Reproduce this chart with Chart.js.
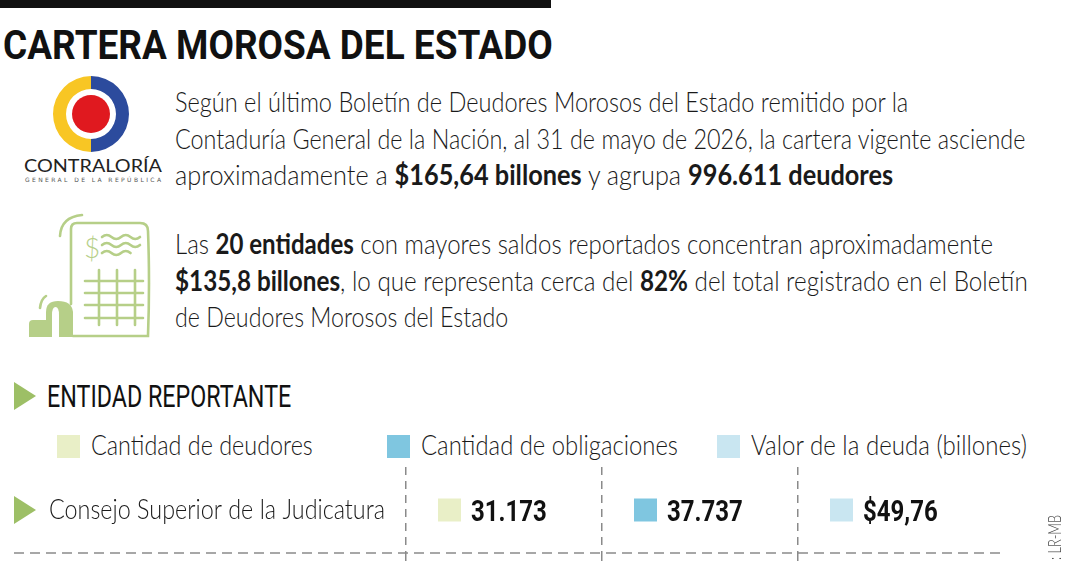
<!DOCTYPE html>
<html lang="es">
<head>
<meta charset="utf-8">
<title>Cartera morosa del Estado</title>
<script src="https://cdn.jsdelivr.net/npm/chart.js@4.4.1/dist/chart.umd.min.js"></script>
<style>
    html, body { margin: 0; padding: 0; }
    body {
        width: 1080px; height: 567px; overflow: hidden; position: relative;
        background: #fff; color: #1a1a1a;
        font-family: Lato, Roboto, "Noto Sans", sans-serif;
    }
    .topbar { position: absolute; left: 0; top: 0; width: 551px; height: 8px; background: #111; }
    .ln { position: absolute; white-space: nowrap; line-height: 1; transform-origin: 0 0; }
    .title { left: 3px; top: 25px; font-family: Roboto, sans-serif; font-size: 41px; font-weight: 700; color: #111; }
    .txt { left: 175px; font-size: 28px; font-weight: 300; }
    .txt b { font-weight: 700; }
    .head { left: 47px; top: 381px; font-family: Roboto, sans-serif; font-size: 31px; font-weight: 400; color: #111; }
    #legend { position: absolute; left: 57px; top: 430px; display: flex; }
    #legend .item { width: 330px; position: relative; height: 30px; }
    #legend .sw { position: absolute; left: 0; top: 5px; width: 23px; height: 23px; }
    #legend .lab { left: 34px; top: 0; font-size: 28px; font-weight: 300; }
    #tabla { position: absolute; left: 0; top: 460px; }
    .credit {
        position: absolute; left: 1046px; top: 605px; width: 120px; text-align: right;
        font-size: 17px; font-weight: 300; line-height: 18px; color: #444;
        transform-origin: 0 0; transform: rotate(-90deg) scaleX(0.75); white-space: nowrap;
    }
    svg.art { position: absolute; left: 0; top: 0; }
</style>
</head>
<body>
<div class="topbar"></div>
<div class="ln title" data-fit="550">CARTERA MOROSA DEL ESTADO</div>

<svg class="art" width="170" height="420" viewBox="0 0 170 420">
    <!-- logo Contraloría -->
    <path d="M91,76 A38,38 0 0 0 91,152 L91,139 A25,25 0 0 1 91,89 Z" fill="#f8c624"/>
    <path d="M91,76 A38,38 0 0 1 91,152 L91,139 A25,25 0 0 0 91,89 Z" fill="#2c4b9d"/>
    <circle cx="91" cy="114" r="19" fill="#e0191f"/>
    <text x="24" y="172" font-family="Lato, 'DejaVu Sans', sans-serif" font-size="18" fill="#222"
          textLength="138" lengthAdjust="spacingAndGlyphs">CONTRALORÍA</text>
    <text x="25" y="182" font-family="'DejaVu Sans', sans-serif" font-size="6" fill="#555"
          textLength="136" lengthAdjust="spacing">GENERAL DE LA REPÚBLICA</text>

    <!-- icono documento -->
    <g fill="none" stroke="#b6cf88" stroke-width="2.6" stroke-linecap="round">
        <path d="M71,304 V229 Q71,223 77,223 H140 Q148,223 148,231 Q150,282 148,336 H73"/>
        <path d="M60,236 Q61,217 82,215"/>
        <path d="M40,308 Q41,299 46,296"/>
        <path d="M102,237 q4.75,-4 9.5,0 t9.5,0 t9.5,0 t9.5,0"/>
        <path d="M102,245 q4.75,-4 9.5,0 t9.5,0 t9.5,0 t9.5,0"/>
        <path d="M102,253 q4.75,-4 9.5,0 t9.5,0 t9.5,0"/>
        <path d="M99,270 V325 M117,270 V325 M135,270 V325"/>
        <path d="M85,281 H143 M85,293 H143 M85,305 H143 M85,318 H143"/>
    </g>
    <text x="84" y="258" font-family="Lato, Roboto, sans-serif" font-weight="300" font-size="28" fill="#b6cf88">$</text>
    <path d="M29,337 V324 Q29,320 33,320 H47 V337 Z" fill="#b6cf88"/>
    <path d="M46,337 V312 Q46,301 58,301 Q72,301 73,312 V337 Z" fill="#b6cf88"/>
    <path d="M52,337 V315 Q52,307 55.5,307 Q59,307 59,315 V337 Z" fill="#fff"/>

    <!-- marcador de sección -->
    <polygon points="14,382 36,396 14,410" fill="#9dbf66"/>
</svg>

<div class="ln txt" style="top:87px" data-fit="733">Según el último Boletín de Deudores Morosos del Estado remitido por la</div>
<div class="ln txt" style="top:124px" data-fit="850">Contaduría General de la Nación, al 31 de mayo de 2026, la cartera vigente asciende</div>
<div class="ln txt" style="top:160px" data-fit="718">aproximadamente a <b>$165,64 billones</b> y agrupa <b>996.611 deudores</b></div>

<div class="ln txt" style="top:229px" data-fit="818">Las <b>20 entidades</b> con mayores saldos reportados concentran aproximadamente</div>
<div class="ln txt" style="top:266px" data-fit="853"><b>$135,8 billones</b>, lo que representa cerca del <b>82%</b> del total registrado en el Boletín</div>
<div class="ln txt" style="top:302px" data-fit="333">de Deudores Morosos del Estado</div>

<div class="ln head" data-fit="244">ENTIDAD REPORTANTE</div>
<div id="legend"></div>

<canvas id="tabla" width="1080" height="107"></canvas>

<div class="credit">: LR-MB</div>

<script>
// ---- data ----
const categorias = ['Cantidad de deudores', 'Cantidad de obligaciones', 'Valor de la deuda (billones)'];
const entidades = ['Consejo Superior de la Judicatura'];
const valores = [31173, 37737, 49.76];
const prefijos = ['', '', '$'];
const decimales = [0, 0, 2];
const colores = ['#e9efc7', '#7fc6e0', '#c9e6f1'];
const legendWidths = [222, 257, 276];

const GRID = '#8a8a8a';
const SWATCH = 23;
const CELL_INSET = 32;
const CONDENSE = 0.8;

// format like es-CO: 31.173 / 49,76
function formatValue(i) {
    const parts = valores[i].toFixed(decimales[i]).split('.');
    parts[0] = parts[0].replace(/\B(?=(\d{3})+(?!\d))/g, '.');
    return prefijos[i] + parts.join(',');
}

// legend
const legend = document.getElementById('legend');
categorias.forEach(function(cat, i) {
    const item = document.createElement('div');
    item.className = 'item';
    item.innerHTML = '<div class="sw" style="background:' + colores[i] + '"></div>' +
        '<div class="ln lab" data-fit="' + legendWidths[i] + '">' + cat + '</div>';
    legend.appendChild(item);
});

// squeeze lines to the condensed width of the original typeface
document.querySelectorAll('[data-fit]').forEach(function(el) {
    const w = el.offsetWidth;
    if (w > 0) el.style.transform = 'scaleX(' + (Number(el.dataset.fit) / w).toFixed(4) + ')';
});

function drawCondensed(ctx, text, x, y, font, k) {
    ctx.save();
    ctx.translate(x, y);
    ctx.scale(k, 1);
    ctx.font = font;
    ctx.fillText(text, 0, 0);
    ctx.restore();
}

const rowPlugin = {
    id: 'rowLabels',
    afterDatasetsUpdate(chart) {
        // move each swatch to the left part of its cell
        const x = chart.scales.x;
        const colW = x.getPixelForValue(1) - x.getPixelForValue(0);
        chart.getDatasetMeta(0).data.forEach(function(pt) {
            pt.x = pt.x - colW / 2 + CELL_INSET + SWATCH / 2;
        });
    },
    afterDraw(chart) {
        const ctx = chart.ctx;
        const area = chart.chartArea;
        const y = chart.scales.y.getPixelForValue(0);
        ctx.save();
        ctx.fillStyle = '#111';
        ctx.textBaseline = 'alphabetic';
        chart.getDatasetMeta(0).data.forEach(function(pt, i) {
            drawCondensed(ctx, formatValue(i), pt.x + SWATCH / 2 + 10, pt.y + 10.7, '700 30px Roboto', CONDENSE);
        });

        // row label with marker
        ctx.fillStyle = '#9dbf66';
        ctx.beginPath();
        ctx.moveTo(14, y - 14);
        ctx.lineTo(36, y);
        ctx.lineTo(14, y + 14);
        ctx.closePath();
        ctx.fill();
        ctx.fillStyle = '#1a1a1a';
        const font = '300 28px Lato, Roboto, sans-serif';
        ctx.font = font;
        const k = 336 / ctx.measureText(entidades[0]).width;
        drawCondensed(ctx, entidades[0], 49, y + 9, font, k);

        // dashed separator under the row
        ctx.strokeStyle = GRID;
        ctx.lineWidth = 1.5;
        ctx.setLineDash([10, 6]);
        ctx.beginPath();
        ctx.moveTo(14, area.bottom);
        ctx.lineTo(area.right + 8, area.bottom);
        ctx.stroke();
        ctx.restore();
    }
};

new Chart(document.getElementById('tabla'), {
    type: 'line',
    data: {
        labels: categorias,
        datasets: [{
            data: categorias.map(function() { return entidades[0]; }),
            showLine: false,
            pointStyle: 'rect',
            pointRadius: SWATCH / 2 / Math.SQRT1_2,
            pointBorderWidth: 0,
            pointBackgroundColor: colores,
            clip: false
        }]
    },
    options: {
        responsive: false,
        animation: false,
        events: [],
        layout: { autoPadding: false, padding: { left: 406, right: 86, top: 7, bottom: 0 } },
        plugins: {
            legend: { display: false },
            tooltip: { enabled: false }
        },
        scales: {
            x: {
                type: 'category',
                offset: true,
                ticks: { display: false },
                border: { display: false, dash: [8, 6] },
                grid: {
                    offset: true,
                    color: function(c) { return c.type === 'tick' ? GRID : 'transparent'; },
                    lineWidth: 1.5,
                    tickBorderDash: [8, 6],
                    drawTicks: true,
                    tickLength: 14
                }
            },
            y: {
                type: 'category',
                labels: entidades,
                offset: true,
                display: false
            }
        }
    },
    plugins: [rowPlugin]
});
</script>
</body>
</html>
